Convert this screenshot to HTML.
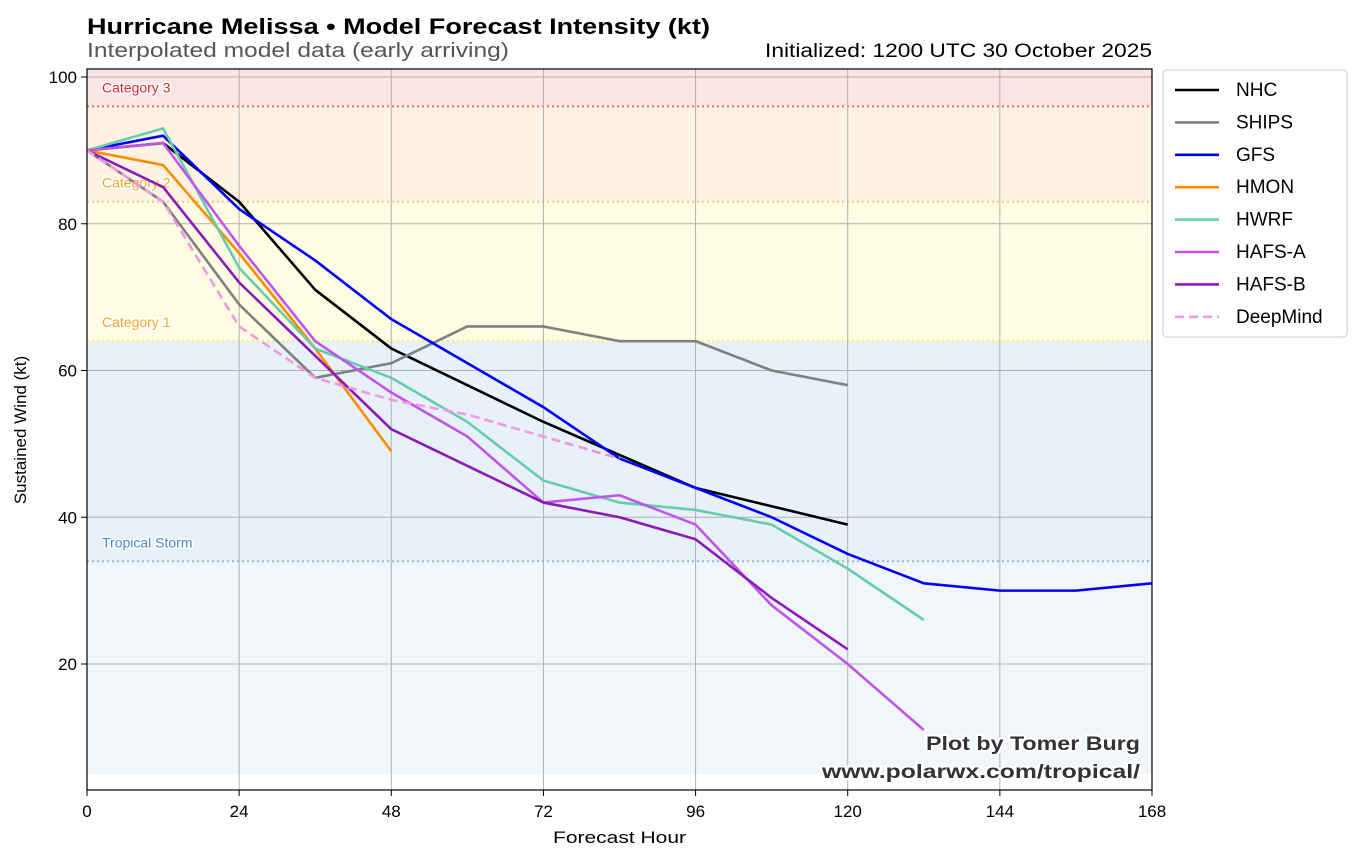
<!DOCTYPE html>
<html><head><meta charset="utf-8"><style>
body{margin:0;background:#fff}
svg{display:block;font-family:"Liberation Sans","DejaVu Sans",sans-serif}
</style></head><body>
<svg id="s" width="1360" height="860" xmlns="http://www.w3.org/2000/svg">
<rect width="1360" height="860" fill="#fff"/>
<g id="bg"></g>
<g id="grid" stroke="#b0b0b0" stroke-width="1"></g>
<g id="lines" fill="none" stroke-width="2.6" stroke-linejoin="round"></g>
<rect x="87" y="69" width="1065" height="721" fill="none" stroke="#000" stroke-width="1.2"/>
<g id="ticks" font-size="17" fill="#000"></g>
<text x="87" y="34" font-size="22" font-weight="bold" textLength="623" lengthAdjust="spacingAndGlyphs">Hurricane Melissa • Model Forecast Intensity (kt)</text>
<text x="87" y="57" font-size="20" fill="#555" textLength="422" lengthAdjust="spacingAndGlyphs">Interpolated model data (early arriving)</text>
<text x="765" y="57" font-size="19" textLength="387" lengthAdjust="spacingAndGlyphs">Initialized: 1200 UTC 30 October 2025</text>
<text x="553" y="843" font-size="17" textLength="133" lengthAdjust="spacingAndGlyphs">Forecast Hour</text>
<text transform="translate(26,430) rotate(-90)" font-size="17" text-anchor="middle">Sustained Wind (kt)</text>
<g font-size="19" font-weight="bold" fill="#333" stroke="#fff" stroke-width="4" paint-order="stroke">
<text x="926" y="750" textLength="214" lengthAdjust="spacingAndGlyphs">Plot by Tomer Burg</text>
<text x="822" y="778" textLength="318" lengthAdjust="spacingAndGlyphs">www.polarwx.com/tropical/</text>
</g>
<g id="leg"></g>
</svg>
<script>
const X=h=>87+h*1065/168, Y=v=>810.75-7.3375*v;
const ns="http://www.w3.org/2000/svg";
function el(p,t,a,txt){const e=document.createElementNS(ns,t);for(const k in a)e.setAttribute(k,a[k]);if(txt!==undefined)e.textContent=txt;document.getElementById(p).appendChild(e);return e;}
const bands=[[96,101.2,"#fbe5e5"],[83,96,"#fef3e2"],[64,83,"#fefde3"],[34,64,"#e8f1f9"],[5,34,"#f1f6fb"]];
bands.forEach(b=>el("bg","rect",{x:87,y:Y(b[1]),width:1065,height:Y(b[0])-Y(b[1]),fill:b[2]}));
[[96,"#e8706e","Category 3","#d62728"],[83,"#f7c97a","Category 2","#f5a623"],[64,"#f2ec7a","Category 1","#f5a623"],[34,"#8fb5dd","Tropical Storm","#4a8ac9"]].forEach(c=>{
 el("bg","line",{x1:87,x2:1152,y1:Y(c[0]),y2:Y(c[0]),stroke:c[1],"stroke-width":2,"stroke-dasharray":"2,3"});
 el("bg","text",{x:102,y:Y(c[0])-14,"font-size":14,fill:c[3],stroke:"#fff","stroke-width":3,"paint-order":"stroke"},c[2]);
});
for(let h=24;h<168;h+=24)el("grid","line",{x1:X(h),x2:X(h),y1:69,y2:790});
for(let v=20;v<=100;v+=20)el("grid","line",{x1:87,x2:1152,y1:Y(v),y2:Y(v)});
for(let h=0;h<=168;h+=24){el("ticks","line",{x1:X(h),x2:X(h),y1:790,y2:796,stroke:"#000"});el("ticks","text",{x:X(h),y:817,"text-anchor":"middle"},h);}
for(let v=20;v<=100;v+=20){el("ticks","line",{x1:81,x2:87,y1:Y(v),y2:Y(v),stroke:"#000"});el("ticks","text",{x:77,y:Y(v)+6,"text-anchor":"end"},v);}
const S=[
["NHC","#000",[[0,90],[12,91],[24,83],[36,71],[48,63],[60,58],[72,53],[84,48.5],[96,44],[120,39]]],
["SHIPS","#808080",[[0,90],[12,83],[24,69],[36,59],[48,61],[60,66],[72,66],[84,64],[96,64],[108,60],[120,58]]],
["GFS","#0000ff",[[0,90],[12,92],[24,82],[36,75],[48,67],[60,61],[72,55],[84,48],[96,44],[108,40],[120,35],[132,31],[144,30],[156,30],[168,31]]],
["HMON","#ff8c00",[[0,90],[12,88],[24,76],[36,63],[48,49]]],
["HWRF","#66cdaa",[[0,90],[12,93],[24,74],[36,63],[48,59],[60,53],[72,45],[84,42],[96,41],[108,39],[120,33],[132,26]]],
["HAFS-A","#bf55ec",[[0,90],[12,91],[24,77],[36,64],[48,57],[60,51],[72,42],[84,43],[96,39],[108,28],[120,20],[132,11]]],
["HAFS-B","#8b1ab8",[[0,90],[12,85],[24,72],[36,62],[48,52],[72,42],[84,40],[96,37],[108,29],[120,22]]],
["DeepMind","#ee99e0",[[0,90],[12,83],[24,66],[36,59],[48,56],[60,54],[72,51],[84,48]],1]];
S.forEach(s=>{const a={points:s[2].map(p=>X(p[0])+","+Y(p[1])).join(" "),stroke:s[1]};if(s[3])a["stroke-dasharray"]="9,5";el("lines","polyline",a);});
el("leg","rect",{x:1163,y:70,width:184,height:267,rx:4,fill:"#fff",stroke:"#ccc"});
S.forEach((s,i)=>{const y=90+i*32.4;const a={x1:1175,x2:1219,y1:y,y2:y,stroke:s[1],"stroke-width":2.6};if(s[3])a["stroke-dasharray"]="9,5";el("leg","line",a);el("leg","text",{x:1236,y:y+6,"font-size":19},s[0]);});
</script>
</body></html>
